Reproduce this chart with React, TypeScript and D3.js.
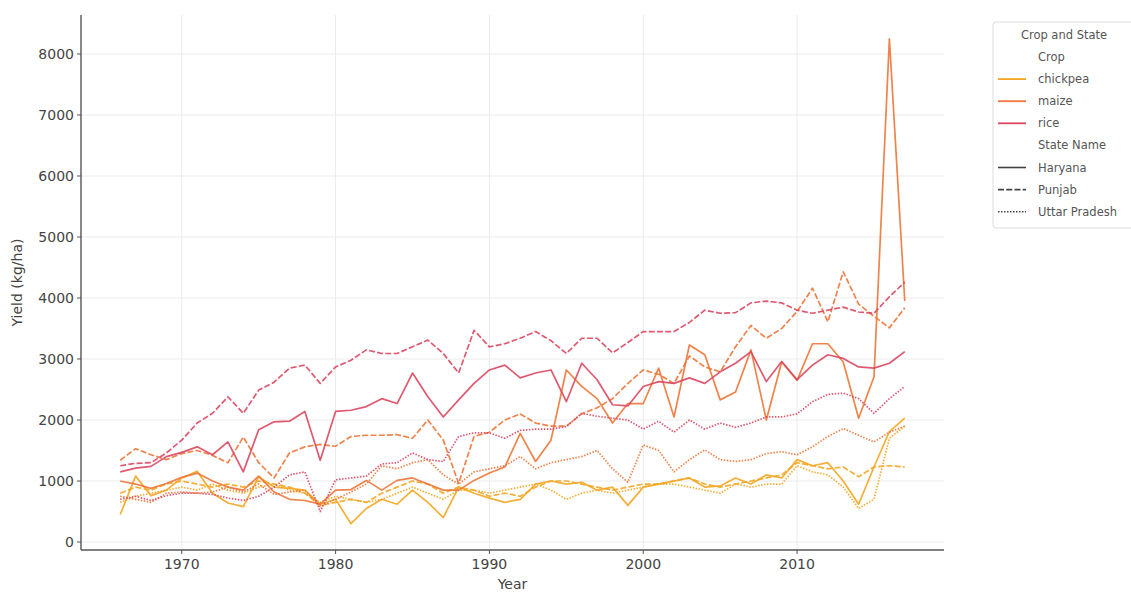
import React from "react";
import * as d3 from "d3";

const years = [1966,1967,1968,1969,1970,1971,1972,1973,1974,1975,1976,1977,1978,1979,1980,1981,1982,1983,1984,1985,1986,1987,1988,1989,1990,1991,1992,1993,1994,1995,1996,1997,1998,1999,2000,2001,2002,2003,2004,2005,2006,2007,2008,2009,2010,2011,2012,2013,2014,2015,2016,2017];

const crops = ["chickpea", "maize", "rice"];
const states = ["Haryana", "Punjab", "Uttar Pradesh"];

const chickpeaHaryana = [450,1080,760,850,1050,1160,800,640,580,1070,900,880,850,620,700,300,550,700,620,850,650,400,900,800,720,650,700,950,1000,950,980,850,900,600,900,950,1000,1050,900,920,1050,950,1100,1050,1350,1250,1300,1000,620,1230,1810,2030];
const chickpeaPunjab = [800,900,850,950,1000,950,900,950,900,1000,950,900,800,600,650,700,650,800,900,1000,950,800,900,850,750,800,750,900,1000,1000,950,900,850,900,950,950,1000,1050,950,900,950,1000,1050,1100,1300,1250,1200,1230,1070,1230,1250,1230];
const chickpeaUP = [650,750,800,850,900,850,950,850,800,900,950,850,800,650,750,700,650,700,800,900,800,700,850,850,800,850,900,950,850,700,800,850,800,850,900,950,950,900,850,800,950,900,950,950,1250,1150,1100,900,550,700,1700,1900];

const maizeHaryana = [1000,950,880,960,1060,1130,1000,900,850,1080,820,700,680,620,850,860,1010,850,1010,1050,950,850,850,1010,1130,1230,1780,1320,1670,2820,2550,2350,1950,2270,2270,2850,2050,3230,3070,2330,2460,3150,2000,2950,2650,3250,3250,2950,2030,2710,8250,3950];
const maizePunjab = [1340,1530,1430,1350,1450,1500,1420,1300,1720,1300,1050,1460,1560,1600,1570,1730,1750,1750,1760,1700,2000,1670,960,1730,1800,2000,2100,1950,1900,1900,2100,2200,2350,2600,2820,2750,2600,3050,2870,2790,3200,3550,3340,3500,3780,4160,3610,4430,3900,3700,3510,3840];
const maizeUP = [750,700,650,800,820,800,820,900,820,950,780,820,850,580,700,820,950,1250,1200,1300,1350,1100,950,1150,1200,1250,1400,1200,1300,1350,1400,1500,1200,980,1590,1500,1150,1350,1510,1350,1320,1350,1450,1480,1430,1560,1730,1860,1750,1640,1800,1900];

const riceHaryana = [1150,1210,1240,1400,1470,1560,1430,1640,1150,1840,1970,1980,2140,1340,2140,2160,2220,2350,2270,2770,2380,2050,2330,2600,2820,2900,2690,2770,2820,2300,2930,2660,2250,2230,2550,2630,2600,2690,2600,2790,2930,3120,2630,2960,2660,2900,3070,3010,2870,2850,2930,3120];
const ricePunjab = [1250,1290,1300,1460,1670,1950,2110,2380,2110,2490,2620,2850,2900,2600,2870,2980,3150,3090,3090,3200,3310,3090,2770,3470,3200,3250,3340,3450,3300,3090,3340,3340,3100,3270,3450,3450,3450,3600,3800,3750,3760,3920,3950,3920,3800,3750,3800,3850,3770,3750,4020,4260];
const riceUP = [700,750,680,760,800,800,780,720,680,750,900,1100,1150,500,1020,1050,1080,1280,1300,1460,1350,1320,1730,1790,1790,1700,1830,1850,1850,1890,2110,2060,2030,2000,1850,1980,1800,2000,1850,1950,1880,1950,2050,2050,2100,2300,2420,2440,2350,2110,2350,2550];

const xTicks = [1970, 1980, 1990, 2000, 2010];
const yTicks = [0, 1000, 2000, 3000, 4000, 5000, 6000, 7000, 8000];

const series = [
  { crop: "chickpea", state: "Haryana", values: chickpeaHaryana },
  { crop: "chickpea", state: "Punjab", values: chickpeaPunjab },
  { crop: "chickpea", state: "Uttar Pradesh", values: chickpeaUP },
  { crop: "maize", state: "Haryana", values: maizeHaryana },
  { crop: "maize", state: "Punjab", values: maizePunjab },
  { crop: "maize", state: "Uttar Pradesh", values: maizeUP },
  { crop: "rice", state: "Haryana", values: riceHaryana },
  { crop: "rice", state: "Punjab", values: ricePunjab },
  { crop: "rice", state: "Uttar Pradesh", values: riceUP },
];

const colorScale = d3.scaleOrdinal<string, string>().domain(crops).range(["#f4a622", "#ee7637", "#db4761"]);
const dashScale = d3.scaleOrdinal<string, string>().domain(states).range(["none", "6 2.25", "1.5 1.5"]);

const FONT = "DejaVu Sans, sans-serif";

export default function App() {
  const W = 1131, H = 594;
  const left = 81, right = 944, top = 15, bottom = 550;
  const x = d3.scaleLinear().domain([1963.45, 2019.55]).range([left, right]);
  const y = d3.scaleLinear().domain([-131, 8639]).range([bottom, top]);
  const line = d3.line<number>().x((_, i) => x(years[i])).y((v) => y(v));

  const legendX = 993, legendY = 22;
  const rows = [
    { type: "head", label: "Crop" },
    ...crops.map((c) => ({ type: "crop", label: c })),
    { type: "head", label: "State Name" },
    ...states.map((s) => ({ type: "state", label: s })),
  ];

  return (
    <svg width={W} height={H} style={{ position: "absolute", left: 0, top: 0, background: "#fff" }} fontFamily={FONT}>
      {yTicks.map((t) => (
        <line key={"gy" + t} x1={left} x2={right} y1={y(t)} y2={y(t)} stroke="#ebebeb" strokeWidth={1} />
      ))}
      {xTicks.map((t) => (
        <line key={"gx" + t} x1={x(t)} x2={x(t)} y1={top} y2={bottom} stroke="#ebebeb" strokeWidth={1} />
      ))}
      {series.map((s) => (
        <path
          key={s.crop + s.state}
          d={line(s.values) || ""}
          fill="none"
          stroke={colorScale(s.crop)}
          strokeWidth={1.7}
          strokeDasharray={dashScale(s.state)}
          strokeOpacity={0.9}
          strokeLinejoin="round"
        />
      ))}
      <line x1={left} x2={left} y1={top} y2={bottom} stroke="#555" strokeWidth={1.4} />
      <line x1={left} x2={right} y1={bottom} y2={bottom} stroke="#555" strokeWidth={1.4} />
      {yTicks.map((t) => (
        <g key={"ty" + t}>
          <line x1={left - 4} x2={left} y1={y(t)} y2={y(t)} stroke="#555" strokeWidth={1} />
          <text x={left - 7} y={y(t)} dy="0.35em" textAnchor="end" fontSize={14} fill="#444">{t}</text>
        </g>
      ))}
      {xTicks.map((t) => (
        <g key={"tx" + t}>
          <line x1={x(t)} x2={x(t)} y1={bottom} y2={bottom + 4} stroke="#555" strokeWidth={1} />
          <text x={x(t)} y={bottom + 19} textAnchor="middle" fontSize={14} fill="#444">{t}</text>
        </g>
      ))}
      <text x={(left + right) / 2} y={589} textAnchor="middle" fontSize={14} fill="#444">Year</text>
      <text transform={`translate(22, ${(top + bottom) / 2}) rotate(-90)`} textAnchor="middle" fontSize={14} fill="#444">Yield (kg/ha)</text>
      <rect x={legendX} y={legendY} width={150} height={206} rx={3} fill="#fff" fillOpacity={0.8} stroke="#dcdcdc" strokeWidth={1} />
      <text x={1064} y={39} textAnchor="middle" fontSize={11.5} fill="#555">Crop and State</text>
      {rows.map((r, i) => {
        const ry = 57 + i * 22.1;
        return (
          <g key={r.label}>
            {r.type === "crop" && (
              <line x1={998} x2={1026} y1={ry} y2={ry} stroke={colorScale(r.label)} strokeWidth={1.8} />
            )}
            {r.type === "state" && (
              <line x1={998} x2={1026} y1={ry} y2={ry} stroke="#444" strokeWidth={1.6} strokeDasharray={dashScale(r.label)} />
            )}
            <text x={1038} y={ry} dy="0.35em" fontSize={11.5} fill="#555">{r.label}</text>
          </g>
        );
      })}
    </svg>
  );
}
